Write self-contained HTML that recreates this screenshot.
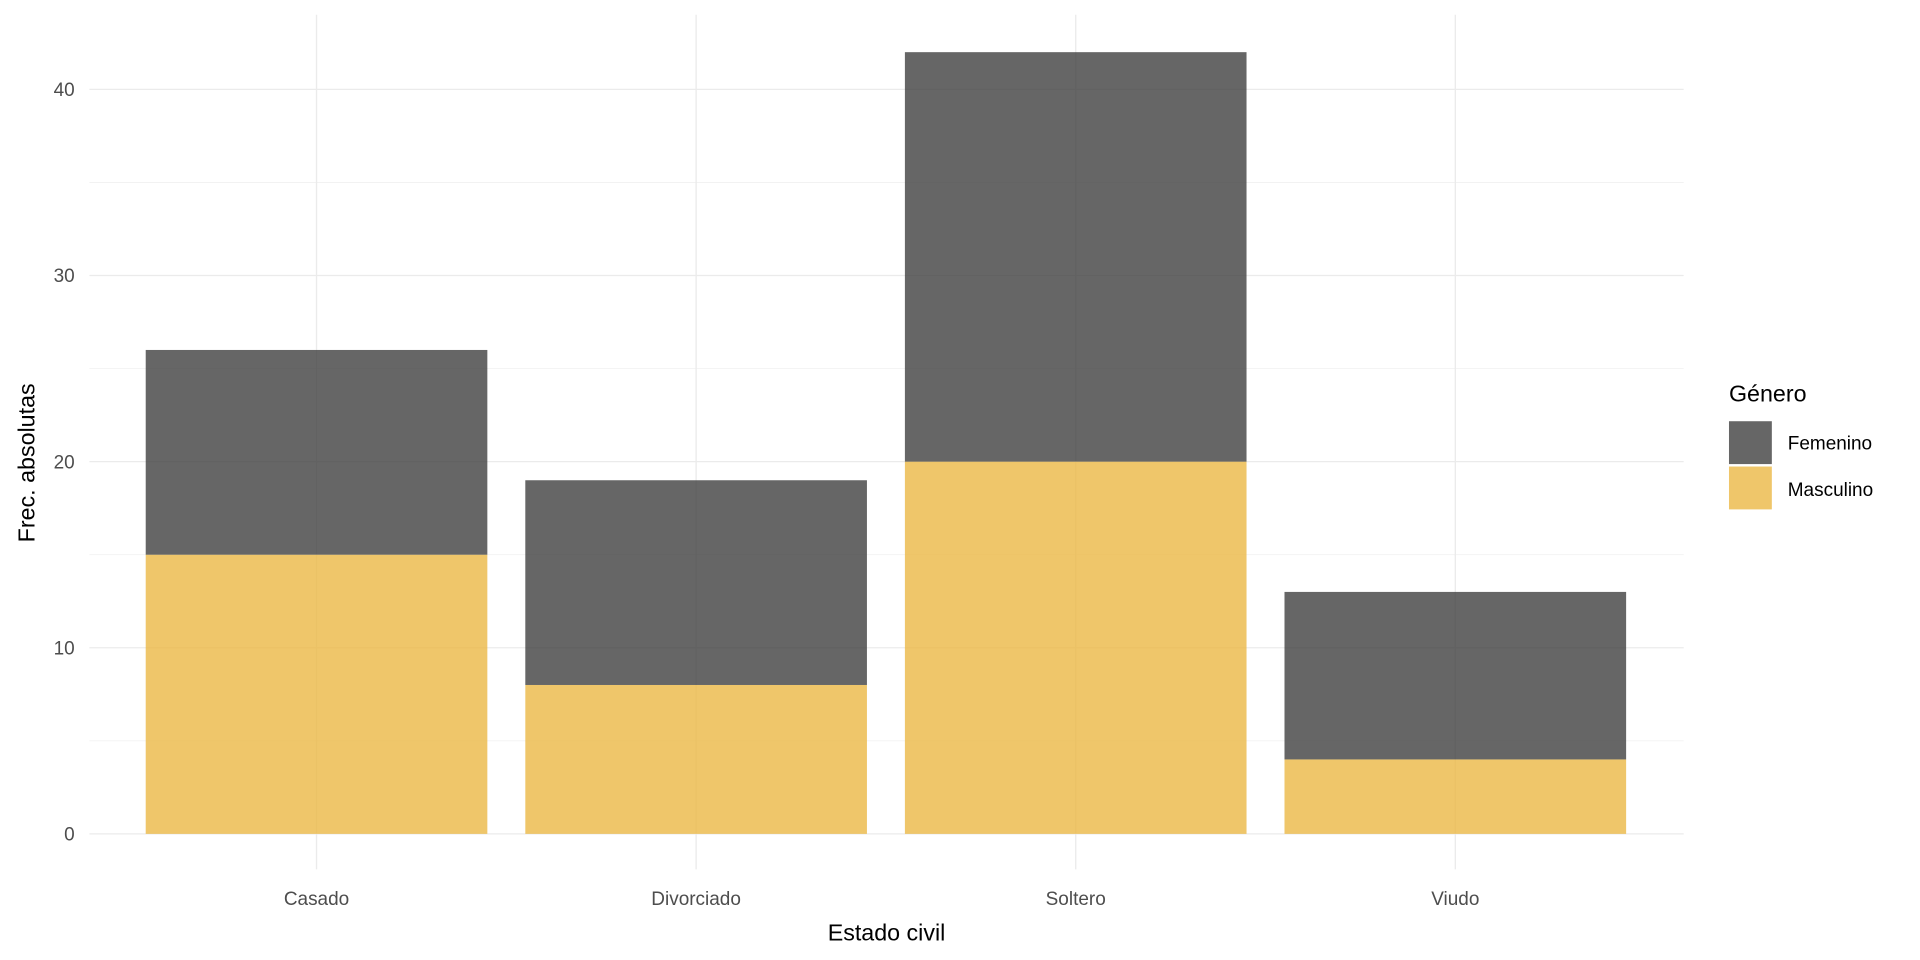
<!DOCTYPE html>
<html><head><meta charset="utf-8"><style>
html,body{margin:0;padding:0;background:#fff;width:1920px;height:960px;overflow:hidden}
svg{display:block;font-family:"Liberation Sans",sans-serif}
</style></head><body>
<svg id="chart" width="1920" height="960" viewBox="0 0 1568 784" xmlns="http://www.w3.org/2000/svg">
<g id="grid"></g>
<g id="bars"></g>
<g id="axes"></g>
<text x="724" y="768" font-size="19" text-anchor="middle" fill="#000">Estado civil</text>
<text transform="translate(28,378) rotate(-90)" font-size="19" text-anchor="middle" fill="#000">Frec. absolutas</text>
<g>
<text x="1412" y="328" font-size="19" fill="#000">Género</text>
<rect x="1412" y="344" width="35" height="35" fill="#666666"/>
<text x="1460" y="367" font-size="15.5" fill="#000">Femenino</text>
<rect x="1412" y="381" width="35" height="35" fill="#EFC66A"/>
<text x="1460" y="405" font-size="15.5" fill="#000">Masculino</text>
</g>
</svg>
<script>
const categories = ["Casado","Divorciado","Soltero","Viudo"];
const masculino = [15, 8, 20, 4];
const femenino = [11, 11, 22, 9];
const yTicks = [0, 10, 20, 30, 40];
const yMinor = [5, 15, 25, 35];

const NS = "http://www.w3.org/2000/svg";
const plotL = 73, plotR = 1375, plotT = 12, plotB = 710;
const y = v => 681 - v * 15.2;
const x = i => 258.5 + 310 * i;
const barW = 279;
function mk(tag, attrs, parent){const e=document.createElementNS(NS,tag);for(const k in attrs)e.setAttribute(k,attrs[k]);parent.appendChild(e);return e;}
const grid=document.getElementById('grid'), bars=document.getElementById('bars'), axes=document.getElementById('axes');
yMinor.forEach(v=>{
  const l=mk('line',{x1:plotL,x2:plotR,y1:y(v),y2:y(v),stroke:'#F2F2F2','stroke-width':0.8},grid);
  
  
});
yTicks.forEach(v=>{
  const l=mk('line',{x1:plotL,x2:plotR,y1:y(v),y2:y(v),stroke:'#EBEBEB','stroke-width':1.1},grid);
  
  
  const t=mk('text',{x:61,y:y(v)+5.5,'font-size':15.5,'text-anchor':'end',fill:'#4D4D4D'},axes);
  t.textContent=v;
  
  
});
categories.forEach((c,i)=>{
  const cx=x(i);
  const l=mk('line',{x1:cx,x2:cx,y1:plotT,y2:plotB,stroke:'#EBEBEB','stroke-width':1.1},grid);
  
  
  const m=mk('rect',{x:cx-barW/2,y:y(masculino[i]),width:barW,height:y(0)-y(masculino[i]),fill:'#EBB845','fill-opacity':0.8},bars);
  
  
  const top=masculino[i]+femenino[i];
  const f=mk('rect',{x:cx-barW/2,y:y(top),width:barW,height:y(masculino[i])-y(top),fill:'#404040','fill-opacity':0.8},bars);
  
  
  const t=mk('text',{x:cx,y:739,'font-size':15.5,'text-anchor':'middle',fill:'#4D4D4D'},axes);
  t.textContent=c;
  
  
});
</script>
</body></html>
